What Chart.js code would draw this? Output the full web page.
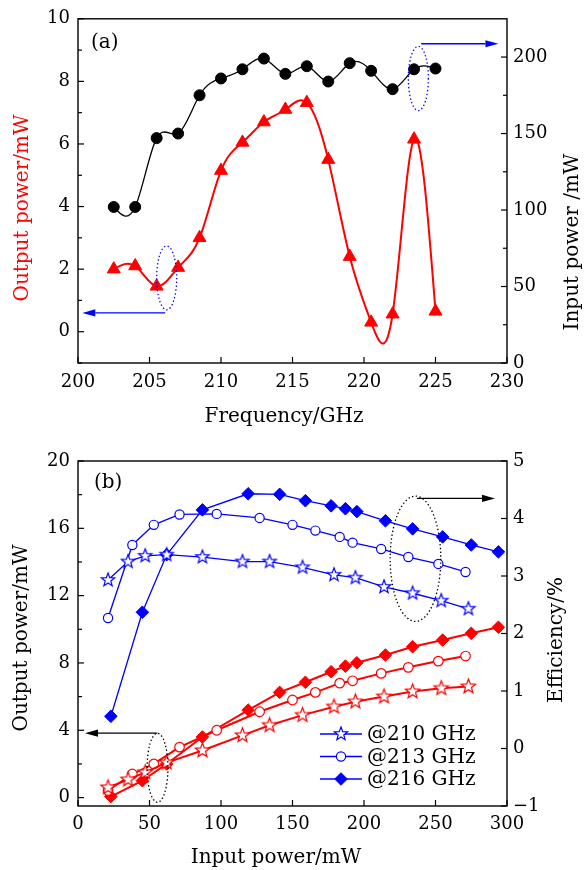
<!DOCTYPE html>
<html>
<head>
<meta charset="utf-8">
<script src="https://cdn.jsdelivr.net/npm/chart.js@4.4.1/dist/chart.umd.min.js"></script>
<style>
  body { margin: 0; background: #fff; }
  #wrap { position: relative; width: 585px; height: 870px; }
  canvas { position: absolute; left: 0; }
</style>
</head>
<body>
<div id="wrap">
  <canvas id="chartA" width="585" height="435" style="top:0"></canvas>
  <canvas id="chartB" width="585" height="435" style="top:435px"></canvas>
</div>
<script>
// ---------- data (a): frequency sweep ----------
const freqGHz   = [202.5, 204, 205.5, 207, 208.5, 210, 211.5, 213, 214.5, 216, 217.5, 219, 220.5, 222, 223.5, 225];
const outPowerA = [2.0, 2.1, 1.45, 2.05, 3.0, 5.15, 6.05, 6.7, 7.1, 7.32, 5.5, 2.4, 0.3, 0.56, 6.15, 0.65];
const inPowerA  = [102, 102, 147, 150, 175, 186, 192, 199, 189, 194, 184, 196, 191, 179, 192, 192.5];

const freqTicks  = [200, 205, 210, 215, 220, 225, 230];
const outTicksA  = [0, 2, 4, 6, 8, 10];
const outMinorA  = [-1, 1, 3, 5, 7, 9];
const inTicksA   = [0, 50, 100, 150, 200];
const inMinorA   = [25, 75, 125, 175];

// ---------- data (b): input power sweep ----------
const pin210 = [21, 35, 47, 62, 87, 115, 134, 157, 179, 194, 214, 234, 254, 273];
const eff210 = [2.93, 3.25, 3.35, 3.37, 3.33, 3.25, 3.25, 3.15, 3.02, 2.97, 2.81, 2.70, 2.57, 2.43];
const out210 = [0.6, 1.07, 1.5, 2.08, 2.8, 3.7, 4.3, 4.9, 5.4, 5.7, 6.0, 6.3, 6.5, 6.6];

const pin213 = [21, 38, 53, 71, 97, 127, 150, 166, 183, 192, 212, 231, 252, 271];
const eff213 = [2.27, 3.54, 3.89, 4.07, 4.08, 4.01, 3.89, 3.79, 3.68, 3.58, 3.47, 3.33, 3.21, 3.07];
const out213 = [0.42, 1.4, 2.0, 3.0, 4.0, 5.1, 5.8, 6.25, 6.8, 6.94, 7.38, 7.74, 8.11, 8.41];

const pin216 = [23, 45, 62, 87, 119, 141, 159, 177, 187, 195, 215, 234, 255, 275, 294];
const eff216 = [0.56, 2.37, 3.37, 4.15, 4.43, 4.42, 4.31, 4.22, 4.17, 4.12, 3.96, 3.82, 3.68, 3.54, 3.42];
const out216 = [0.06, 1.0, 2.0, 3.6, 5.2, 6.25, 6.85, 7.48, 7.81, 8.01, 8.47, 8.96, 9.36, 9.76, 10.12];

const pinTicks  = [0, 50, 100, 150, 200, 250, 300];
const outTicksB = [0, 4, 8, 12, 16, 20];
const outMinorB = [2, 6, 10, 14, 18];
const effTicks  = [-1, 0, 1, 2, 3, 4, 5];

const legendLabels = ['@210 GHz', '@213 GHz', '@216 GHz'];

const SERIF = '"DejaVu Serif", serif';
const RED = '#ff0000';
const BLUE = '#0000ff';

Chart.defaults.font.family = SERIF;
Chart.defaults.color = '#000';

// open star marker as an image
function starMarker(color, r) {
  const size = Math.ceil(2 * r + 4);
  const c = document.createElement('canvas');
  c.width = c.height = size;
  const g = c.getContext('2d');
  g.translate(size / 2, size / 2);
  g.beginPath();
  for (let k = 0; k < 10; k++) {
    const rr = k % 2 ? r * 0.42 : r;
    const ang = -Math.PI / 2 + k * Math.PI / 5;
    g.lineTo(rr * Math.cos(ang), rr * Math.sin(ang));
  }
  g.closePath();
  g.fillStyle = '#fff';
  g.fill();
  g.lineWidth = 1.2;
  g.strokeStyle = color;
  g.stroke();
  return c;
}

const pts = (xs, ys) => xs.map((x, i) => ({ x: x, y: ys[i] }));
const fmt = v => String(v).replace('-', '\u2212');
const setTicks = list => scale => { scale.ticks = list.map(v => ({ value: v })); };

// natural cubic spline (in x) for smooth curves
const xSpline = {
  id: 'xSpline',
  beforeDatasetDraw(chart, args) {
    const ds = chart.data.datasets[args.index];
    if (!ds.xSpline) return;
    const p = args.meta.data;
    const n = p.length;
    if (n < 3) return;
    const h = [], m = new Array(n).fill(0);
    for (let i = 0; i < n - 1; i++) h.push(p[i + 1].x - p[i].x);
    const a = [], b = [], c = [], d = [];
    for (let i = 1; i < n - 1; i++) {
      a.push(h[i - 1]); b.push(2 * (h[i - 1] + h[i])); c.push(h[i]);
      d.push(6 * ((p[i + 1].y - p[i].y) / h[i] - (p[i].y - p[i - 1].y) / h[i - 1]));
    }
    const k = b.length;
    for (let i = 1; i < k; i++) {
      const w = a[i] / b[i - 1];
      b[i] -= w * c[i - 1];
      d[i] -= w * d[i - 1];
    }
    const sol = new Array(k);
    sol[k - 1] = d[k - 1] / b[k - 1];
    for (let i = k - 2; i >= 0; i--) sol[i] = (d[i] - c[i] * sol[i + 1]) / b[i];
    for (let i = 0; i < k; i++) m[i + 1] = sol[i];
    for (let i = 0; i < n; i++) {
      let slope;
      if (i < n - 1) slope = (p[i + 1].y - p[i].y) / h[i] - h[i] * (2 * m[i] + m[i + 1]) / 6;
      else slope = (p[i].y - p[i - 1].y) / h[i - 1] + h[i - 1] * (m[i - 1] + 2 * m[i]) / 6;
      const hb = i > 0 ? h[i - 1] / 3 : 0;
      const ha = i < n - 1 ? h[i] / 3 : 0;
      p[i].cp1x = p[i].x - hb; p[i].cp1y = p[i].y - slope * hb;
      p[i].cp2x = p[i].x + ha; p[i].cp2y = p[i].y + slope * ha;
    }
    args.meta.dataset._pointsUpdated = true;
  }
};

// frame, inward ticks, titles, guides, legend
function arrow(ctx, x1, y1, x2, y2, color) {
  const ang = Math.atan2(y2 - y1, x2 - x1);
  const L = 13, W = 3.6;
  ctx.strokeStyle = color; ctx.fillStyle = color; ctx.lineWidth = 1.3; ctx.setLineDash([]);
  ctx.beginPath();
  ctx.moveTo(x1, y1);
  ctx.lineTo(x2 - L * Math.cos(ang), y2 - L * Math.sin(ang));
  ctx.stroke();
  ctx.beginPath();
  ctx.moveTo(x2, y2);
  ctx.lineTo(x2 - L * Math.cos(ang) + W * Math.sin(ang), y2 - L * Math.sin(ang) - W * Math.cos(ang));
  ctx.lineTo(x2 - L * Math.cos(ang) - W * Math.sin(ang), y2 - L * Math.sin(ang) + W * Math.cos(ang));
  ctx.closePath();
  ctx.fill();
}

const decor = {
  id: 'decor',
  afterDraw(chart, args, o) {
    const { ctx, chartArea: ca, scales } = chart;
    ctx.save();
    ctx.strokeStyle = '#000';
    ctx.lineWidth = 1.4;
    ctx.strokeRect(ca.left, ca.top, ca.right - ca.left, ca.bottom - ca.top);

    ctx.lineWidth = 1.2;
    (o.ticks || []).forEach(t => {
      const s = scales[t.id];
      const draw = (v, len) => {
        const px = s.getPixelForValue(v);
        ctx.beginPath();
        if (t.side === 'bottom') { ctx.moveTo(px, ca.bottom); ctx.lineTo(px, ca.bottom - len); }
        if (t.side === 'left') { ctx.moveTo(ca.left, px); ctx.lineTo(ca.left + len, px); }
        if (t.side === 'right') { ctx.moveTo(ca.right, px); ctx.lineTo(ca.right - len, px); }
        ctx.stroke();
      };
      t.major.forEach(v => draw(v, 6));
      (t.minor || []).forEach(v => draw(v, 4));
    });

    (o.ellipses || []).forEach(e => {
      const sx = scales[e.xId], sy = scales[e.yId];
      const cx = sx.getPixelForValue(e.cx), cy = sy.getPixelForValue(e.cy);
      const rx = Math.abs(sx.getPixelForValue(e.cx + e.rx) - cx);
      const ry = Math.abs(sy.getPixelForValue(e.cy + e.ry) - cy);
      ctx.beginPath();
      ctx.setLineDash([1.4, 2.4]);
      ctx.lineWidth = 1.3;
      ctx.strokeStyle = e.color;
      ctx.ellipse(cx, cy, rx, ry, 0, 0, Math.PI * 2);
      ctx.stroke();
    });
    ctx.setLineDash([]);
    (o.arrows || []).forEach(a => {
      const sx = scales[a.xId], sy = scales[a.yId];
      arrow(ctx, sx.getPixelForValue(a.x1), sy.getPixelForValue(a.y), sx.getPixelForValue(a.x2), sy.getPixelForValue(a.y), a.color);
    });

    ctx.textBaseline = 'middle';
    (o.titles || []).forEach(t => {
      ctx.save();
      ctx.font = t.size + 'px ' + SERIF;
      ctx.fillStyle = t.color || '#000';
      ctx.textAlign = t.align || 'center';
      ctx.translate(t.x, t.y);
      if (t.rot) ctx.rotate(t.rot);
      ctx.fillText(t.text, 0, 0);
      ctx.restore();
    });

    if (o.legend) {
      const L = o.legend;
      ctx.font = '20px ' + SERIF;
      ctx.textAlign = 'left';
      chart.data.datasets.filter(ds => ds.inLegend).forEach((ds, i) => {
        const y = L.y + i * L.row;
        ctx.strokeStyle = ds.borderColor;
        ctx.lineWidth = ds.borderWidth;
        ctx.beginPath();
        ctx.moveTo(L.x, y); ctx.lineTo(L.x + L.len, y);
        ctx.stroke();
        ctx.fillStyle = ds.pointBackgroundColor;
        ctx.strokeStyle = ds.pointBorderColor;
        ctx.lineWidth = ds.pointBorderWidth;
        Chart.helpers.drawPoint(ctx, { pointStyle: ds.pointStyle, radius: ds.pointRadius, borderWidth: ds.pointBorderWidth, rotation: 0 }, L.x + L.len / 2, y);
        ctx.fillStyle = '#000';
        ctx.fillText(ds.label, L.x + L.len + 5, y + 1);
      });
    }
    ctx.restore();
  }
};

const tickFont = { size: 18 };

// ---------- chart (a) ----------
new Chart(document.getElementById('chartA'), {
  type: 'line',
  data: {
    datasets: [{
      label: 'Output power',
      data: pts(freqGHz, outPowerA),
      yAxisID: 'yL',
      xSpline: true,
      tension: 0.4,
      borderColor: RED,
      borderWidth: 2,
      pointStyle: 'triangle',
      pointRadius: 7.5,
      pointBackgroundColor: RED,
      pointBorderColor: RED,
      pointBorderWidth: 1
    }, {
      label: 'Input power',
      data: pts(freqGHz, inPowerA),
      yAxisID: 'yR',
      xSpline: true,
      tension: 0.4,
      borderColor: '#000',
      borderWidth: 1.3,
      pointStyle: 'circle',
      pointRadius: 5.5,
      pointBackgroundColor: '#000',
      pointBorderColor: '#000',
      pointBorderWidth: 1
    }]
  },
  options: {
    responsive: false,
    animation: false,
    events: [],
    devicePixelRatio: 1,
    layout: { padding: { top: 18, left: 0, right: 0, bottom: 0 } },
    scales: {
      x: {
        type: 'linear', min: 200, max: 230,
        grid: { display: false, drawTicks: false }, border: { display: false },
        afterBuildTicks: setTicks(freqTicks),
        afterFit: s => { s.height = 72; },
        ticks: { font: tickFont, padding: 9, maxRotation: 0, autoSkip: false, callback: fmt }
      },
      yL: {
        position: 'left', min: -1, max: 10,
        grid: { display: false, drawTicks: false }, border: { display: false },
        afterBuildTicks: setTicks(outTicksA),
        afterFit: s => { s.width = 78; },
        ticks: { font: tickFont, padding: 8, autoSkip: false, callback: fmt }
      },
      yR: {
        position: 'right', min: 0, max: 225,
        grid: { display: false, drawTicks: false }, border: { display: false },
        afterBuildTicks: setTicks(inTicksA),
        afterFit: s => { s.width = 78; },
        ticks: { font: tickFont, padding: 6, autoSkip: false, callback: fmt }
      }
    },
    plugins: {
      legend: { display: false },
      tooltip: { enabled: false },
      decor: {
        ticks: [
          { id: 'x', side: 'bottom', major: freqTicks },
          { id: 'yL', side: 'left', major: outTicksA, minor: outMinorA },
          { id: 'yR', side: 'right', major: inTicksA, minor: inMinorA }
        ],
        ellipses: [
          { xId: 'x', yId: 'yL', cx: 206.2, cy: 1.72, rx: 0.7, ry: 1.02, color: BLUE },
          { xId: 'x', yId: 'yR', cx: 223.8, cy: 186, rx: 0.7, ry: 21, color: BLUE }
        ],
        arrows: [
          { xId: 'x', yId: 'yL', x1: 206.1, x2: 200.3, y: 0.6, color: BLUE },
          { xId: 'x', yId: 'yR', x1: 224.0, x2: 229.4, y: 208.7, color: BLUE }
        ],
        titles: [
          { text: '(a)', x: 91, y: 43, size: 20, align: 'left' },
          { text: 'Frequency/GHz', x: 284, y: 417, size: 20 },
          { text: 'Output power/mW', x: 23, y: 208, size: 20, rot: -Math.PI / 2, color: RED },
          { text: 'Input power /mW', x: 573, y: 242, size: 20, rot: -Math.PI / 2 }
        ]
      }
    }
  },
  plugins: [xSpline, decor]
});

// ---------- chart (b) ----------
const starBlue = starMarker(BLUE, 7);
const starRed = starMarker(RED, 7.5);

new Chart(document.getElementById('chartB'), {
  type: 'line',
  data: {
    datasets: [{
      label: legendLabels[0], inLegend: true,
      data: pts(pin210, eff210), yAxisID: 'yR',
      borderColor: BLUE, borderWidth: 1.3,
      pointStyle: starBlue, pointRadius: 7,
      pointBackgroundColor: '#fff', pointBorderColor: BLUE, pointBorderWidth: 1.2
    }, {
      label: legendLabels[1], inLegend: true,
      data: pts(pin213, eff213), yAxisID: 'yR',
      borderColor: BLUE, borderWidth: 1.3,
      pointStyle: 'circle', pointRadius: 4.6,
      pointBackgroundColor: '#fff', pointBorderColor: BLUE, pointBorderWidth: 1.2
    }, {
      label: legendLabels[2], inLegend: true,
      data: pts(pin216, eff216), yAxisID: 'yR',
      borderColor: BLUE, borderWidth: 1.3,
      pointStyle: 'rectRot', pointRadius: 6.3,
      pointBackgroundColor: BLUE, pointBorderColor: BLUE, pointBorderWidth: 1
    }, {
      label: 'Pout ' + legendLabels[0],
      data: pts(pin210, out210), yAxisID: 'yL',
      borderColor: RED, borderWidth: 2,
      pointStyle: starRed, pointRadius: 7.5,
      pointBackgroundColor: '#fff', pointBorderColor: RED, pointBorderWidth: 1.2
    }, {
      label: 'Pout ' + legendLabels[1],
      data: pts(pin213, out213), yAxisID: 'yL',
      borderColor: RED, borderWidth: 2,
      pointStyle: 'circle', pointRadius: 4.8,
      pointBackgroundColor: '#fff', pointBorderColor: RED, pointBorderWidth: 1.2
    }, {
      label: 'Pout ' + legendLabels[2],
      data: pts(pin216, out216), yAxisID: 'yL',
      borderColor: RED, borderWidth: 2,
      pointStyle: 'rectRot', pointRadius: 6.3,
      pointBackgroundColor: RED, pointBorderColor: RED, pointBorderWidth: 1
    }]
  },
  options: {
    responsive: false,
    animation: false,
    events: [],
    devicePixelRatio: 1,
    layout: { padding: { top: 26, left: 0, right: 0, bottom: 0 } },
    scales: {
      x: {
        type: 'linear', min: 0, max: 300,
        grid: { display: false, drawTicks: false }, border: { display: false },
        afterBuildTicks: setTicks(pinTicks),
        afterFit: s => { s.height = 64; },
        ticks: { font: tickFont, padding: 8, maxRotation: 0, autoSkip: false, callback: fmt }
      },
      yL: {
        position: 'left', min: -0.5, max: 20,
        grid: { display: false, drawTicks: false }, border: { display: false },
        afterBuildTicks: setTicks(outTicksB),
        afterFit: s => { s.width = 78; },
        ticks: { font: tickFont, padding: 8, autoSkip: false, callback: fmt }
      },
      yR: {
        position: 'right', min: -1, max: 5,
        grid: { display: false, drawTicks: false }, border: { display: false },
        afterBuildTicks: setTicks(effTicks),
        afterFit: s => { s.width = 78; },
        ticks: { font: tickFont, padding: 6, autoSkip: false, callback: fmt }
      }
    },
    plugins: {
      legend: { display: false },
      tooltip: { enabled: false },
      decor: {
        ticks: [
          { id: 'x', side: 'bottom', major: pinTicks },
          { id: 'yL', side: 'left', major: outTicksB, minor: outMinorB },
          { id: 'yR', side: 'right', major: effTicks }
        ],
        ellipses: [
          { xId: 'x', yId: 'yR', cx: 236, cy: 3.3, rx: 17.7, ry: 1.09, color: '#000' },
          { xId: 'x', yId: 'yL', cx: 55.6, cy: 1.77, rx: 7.3, ry: 2.05, color: '#000' }
        ],
        arrows: [
          { xId: 'x', yId: 'yR', x1: 237, x2: 291.6, y: 4.35, color: '#000' },
          { xId: 'x', yId: 'yL', x1: 55.5, x2: 4.9, y: 3.83, color: '#000' }
        ],
        titles: [
          { text: '(b)', x: 94, y: 48, size: 20, align: 'left' },
          { text: 'Input power/mW', x: 276, y: 423, size: 20 },
          { text: 'Output power/mW', x: 22, y: 203, size: 20, rot: -Math.PI / 2 },
          { text: 'Efficiency/%', x: 557, y: 205, size: 20, rot: -Math.PI / 2 }
        ],
        legend: { x: 320, y: 299, row: 22.5, len: 42 }
      }
    }
  },
  plugins: [decor]
});
</script>
</body>
</html>
